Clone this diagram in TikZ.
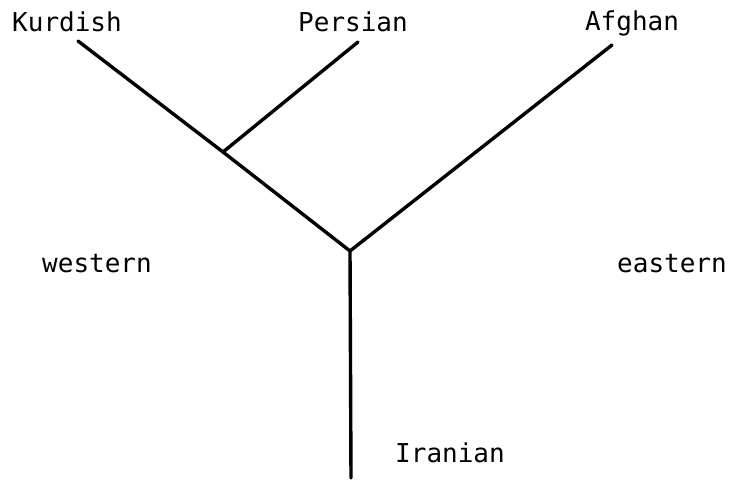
\documentclass[tikz,border=0pt]{standalone}
\usepackage{fontspec}
\setmonofont{DejaVu Sans Mono}
\begin{document}
\begin{tikzpicture}[x=1pt,y=-1pt,
  branch/.style={line width=3.4pt,line cap=round,line join=round},
  lang/.style={font=\ttfamily\fontsize{26}{30}\selectfont,anchor=base,inner sep=0pt}]
\useasboundingbox (0,0) rectangle (730,481);
% tree points
\coordinate (root) at (351,478);
\coordinate (fork) at (350,251);
\coordinate (west) at (223,152);
\coordinate (kurd) at (78,41);
\coordinate (pers) at (358,42);
\coordinate (afgh) at (612,45);
% branches
\draw[branch] (root) -- (fork);
\draw[branch] (fork) -- (west);
\draw[branch] (west) -- (kurd);
\draw[branch] (west) -- (pers);
\draw[branch] (fork) -- (afgh);
% labels
\node[lang] (lkurd) at (67,32) {Kurdish};
\node[lang] (lpers) at (353,32) {Persian};
\node[lang] (lafgh) at (632,31) {Afghan};
\node[lang] (lwest) at (97,272) {western};
\node[lang] (least) at (672,272) {eastern};
\node[lang] (liran) at (450,462) {Iranian};
\end{tikzpicture}
\end{document}
